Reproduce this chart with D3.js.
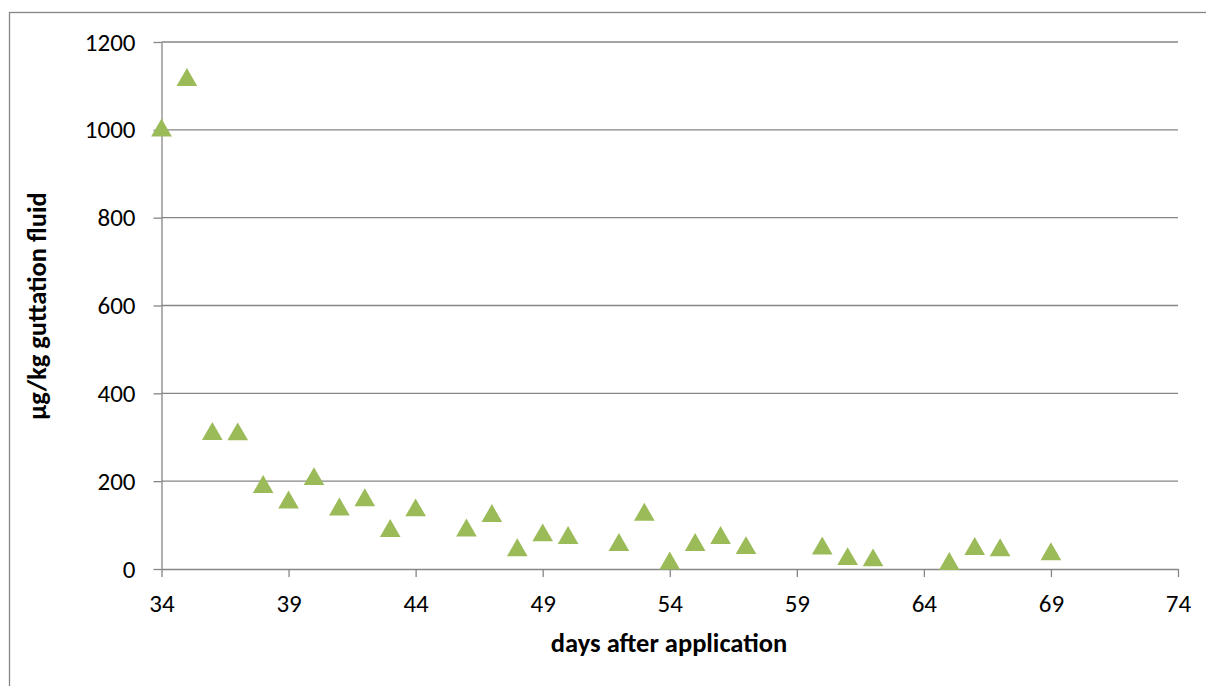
<!DOCTYPE html>
<html><head><meta charset="utf-8">
<script src="https://cdn.jsdelivr.net/npm/d3@7"></script>
<style>body{margin:0;background:#fff;}svg{display:block;font-family:Carlito,Calibri,"Open Sans",sans-serif;}</style>
</head><body>
<svg id="chart" width="1206" height="686"></svg>
<script>
const days = [34,35,36,37,38,39,40,41,42,43,44,46,47,48,49,50,52,53,54,55,56,57,60,61,62,65,66,67,69];
const values = [1002,1117,311,310,190,155,208,139,160,90,137,91,124,46,80,74,58,127,16,58,74,51,50,26,23,15,49,46,37];
const xTicks = [34,39,44,49,54,59,64,69,74];
const yTicks = [0,200,400,600,800,1000,1200];
const xTitle = "days after application";
const yTitle = "µg/kg guttation fluid";

const FONT = "Carlito,Calibri,'Open Sans',sans-serif";
const svg = d3.select("#chart");
const grey = "#868686";
const x = d3.scaleLinear().domain([34,74]).range([161.5,1178]);
const y = d3.scaleLinear().domain([0,1200]).range([569,42]);

// outer border
svg.append("rect").attr("x",9.5).attr("y",12.5).attr("width",1210).attr("height",700)
  .attr("fill","none").attr("stroke",grey).attr("stroke-width",1.3);

// gridlines
svg.append("g").selectAll("line").data(yTicks.filter(d=>d>0)).join("line")
  .attr("x1",x(34)).attr("x2",x(74)).attr("y1",d=>y(d)).attr("y2",d=>y(d))
  .attr("stroke",grey).attr("stroke-width",1.3);

// y axis
const yAxis = svg.append("g").attr("transform",`translate(${x(34)},0)`)
  .call(d3.axisLeft(y).tickValues(yTicks).tickFormat(d3.format("d")).tickSize(8).tickPadding(18).tickSizeOuter(0));
yAxis.attr("font-family",FONT).attr("font-size",25);
yAxis.select(".domain").attr("stroke",grey).attr("stroke-width",1.3);
yAxis.selectAll(".tick line").attr("stroke",grey).attr("stroke-width",1.3);
yAxis.selectAll("text").attr("fill","#000");

// x axis
const xAxis = svg.append("g").attr("transform",`translate(0,${y(0)})`)
  .call(d3.axisBottom(x).tickValues(xTicks).tickFormat(d3.format("d")).tickSize(8).tickPadding(17).tickSizeOuter(0));
xAxis.attr("font-family",FONT).attr("font-size",25);
xAxis.select(".domain").attr("stroke",grey).attr("stroke-width",1.3);
xAxis.selectAll(".tick line").attr("stroke",grey).attr("stroke-width",1.3);
xAxis.selectAll("text").attr("fill","#000");

// markers
const tri = d3.symbol().type(d3.symbolTriangle).size(185);
svg.append("g").selectAll("path").data(days.map((d,i)=>[d,values[i]])).join("path")
  .attr("d",tri).attr("transform",d=>`translate(${x(d[0])},${y(d[1])+1.5})`)
  .attr("fill","#9BBB59");

// titles
svg.append("text").attr("x",669).attr("y",652).attr("text-anchor","middle")
  .attr("font-family",FONT).attr("font-size",26.5).attr("font-weight","bold").text(xTitle);
svg.append("text").attr("transform","translate(46,306) rotate(-90)").attr("text-anchor","middle")
  .attr("font-family",FONT).attr("font-size",26.5).attr("font-weight","bold").text(yTitle);
</script>
</body></html>
